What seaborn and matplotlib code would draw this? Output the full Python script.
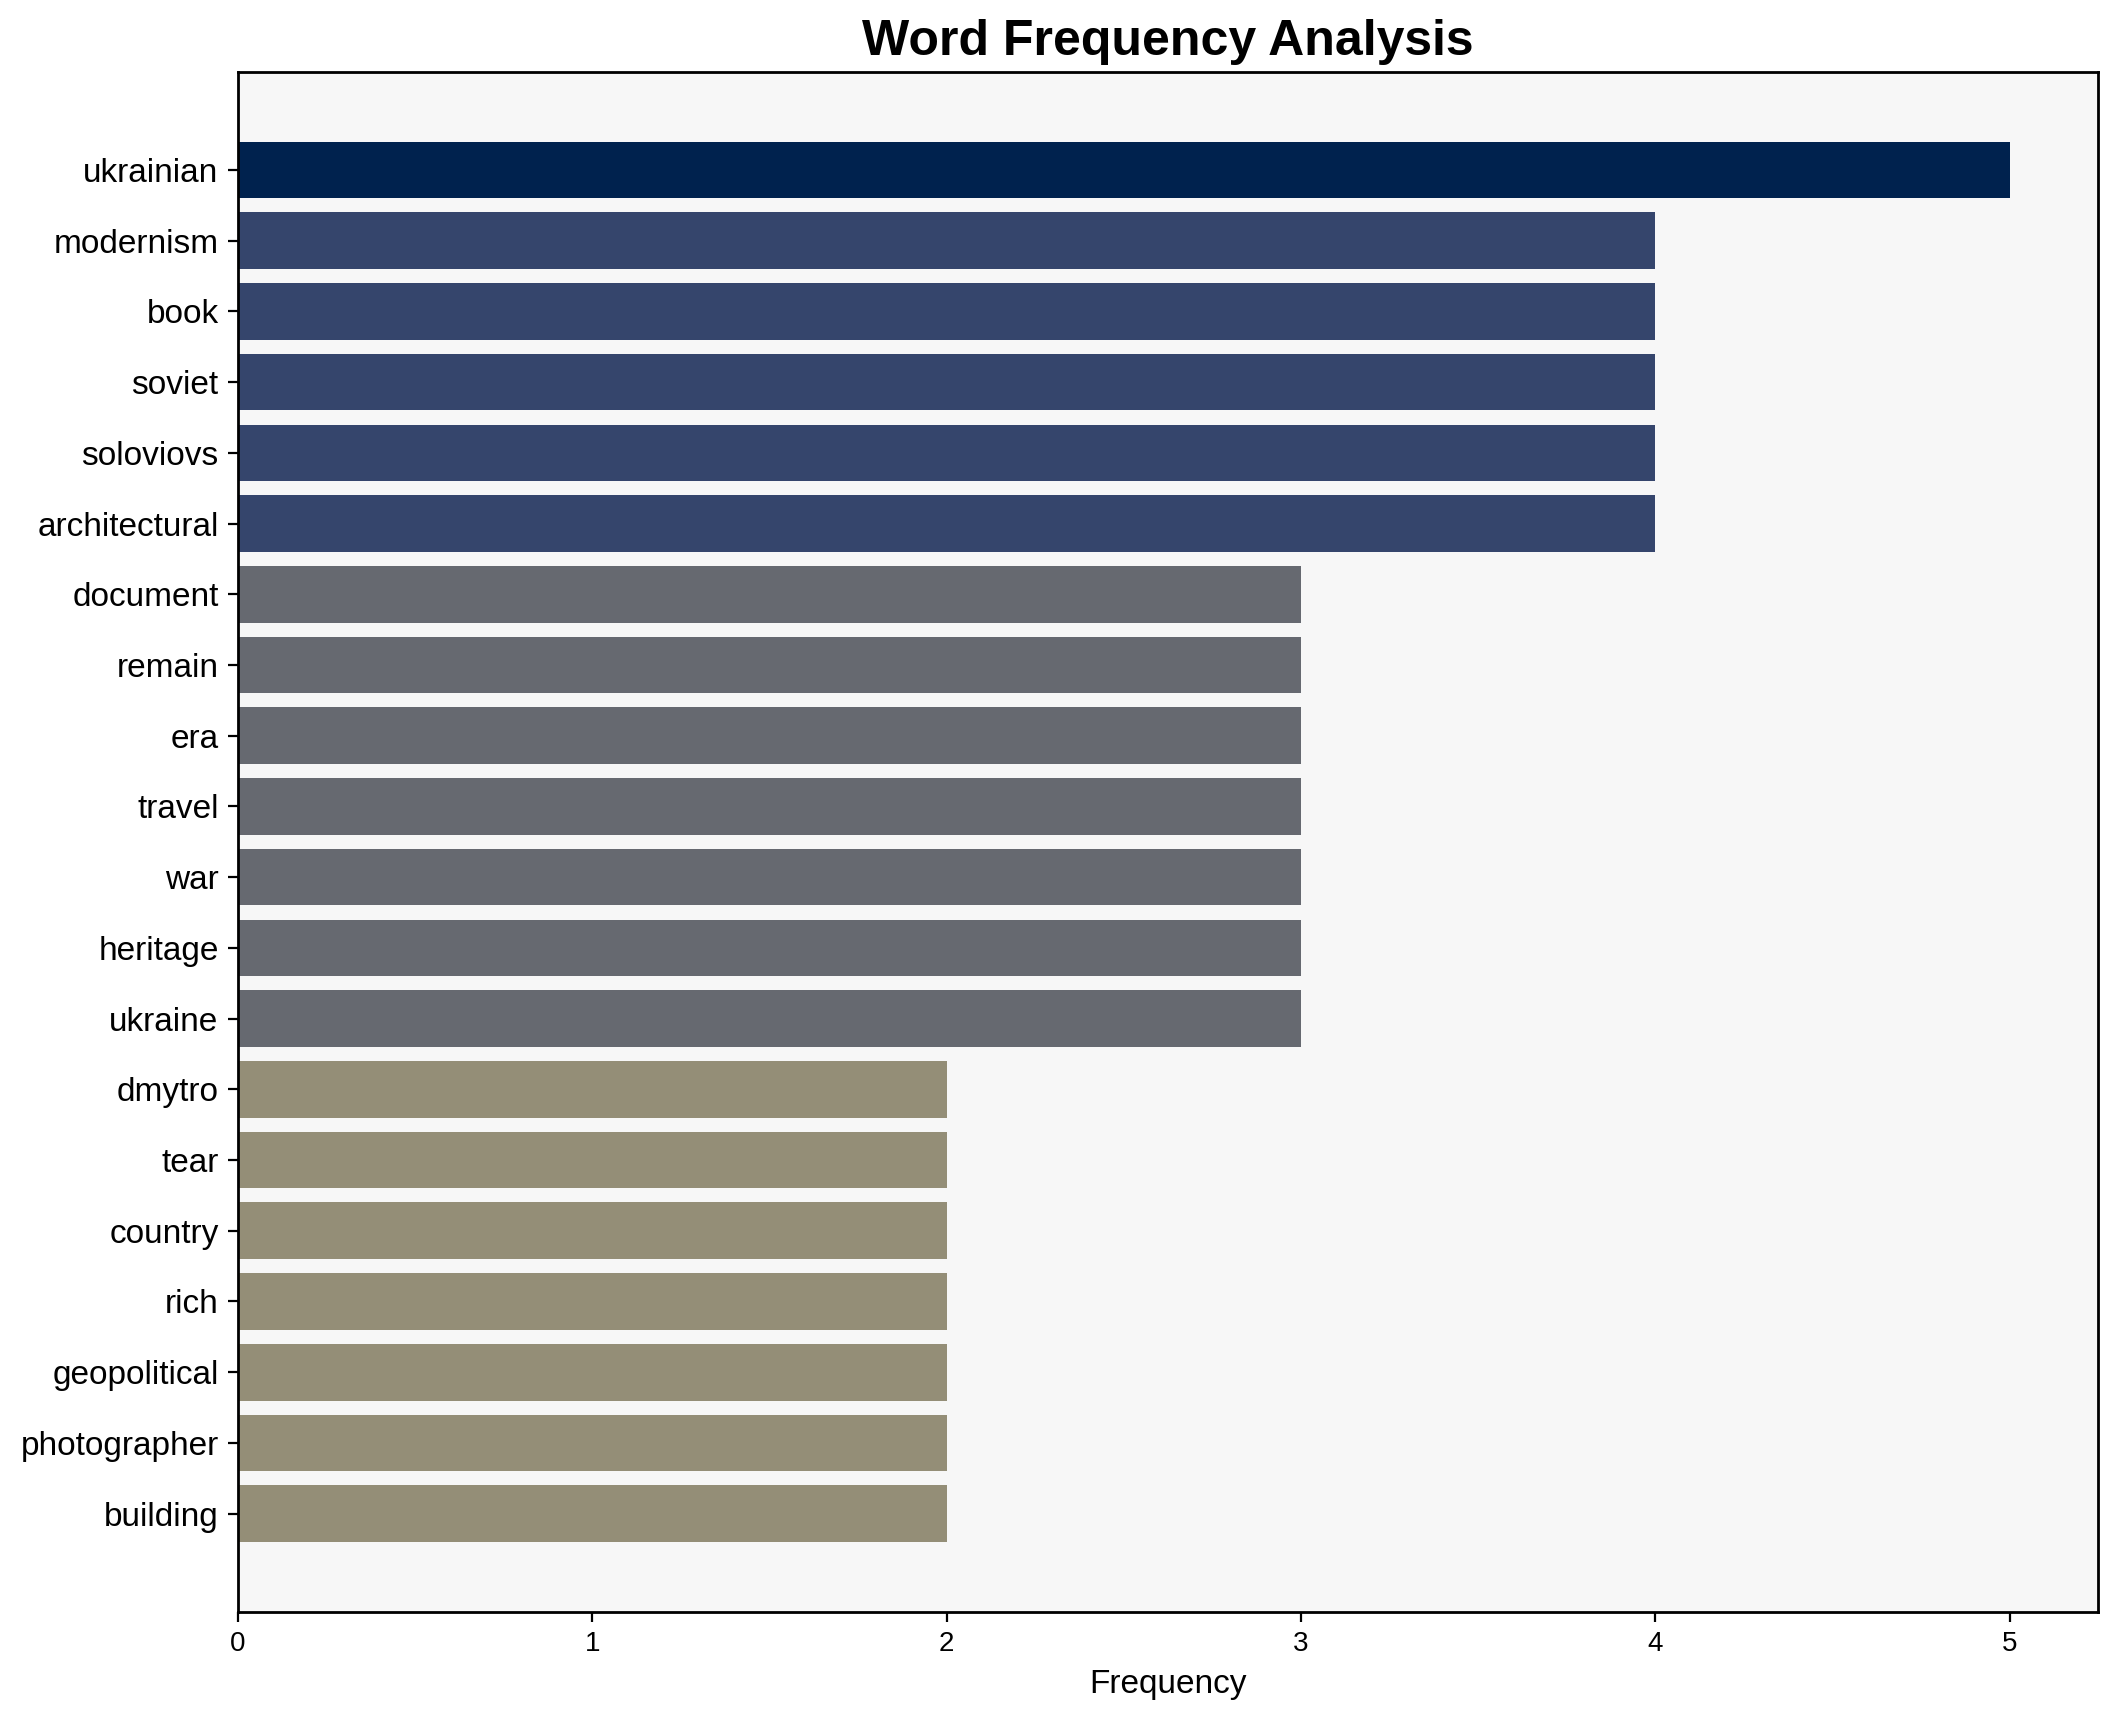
import matplotlib
matplotlib.use("Agg")
import matplotlib.pyplot as plt
import pandas as pd
import seaborn as sns

# --- Data ---
words = ["ukrainian", "modernism", "book", "soviet", "soloviovs", "architectural",
         "document", "remain", "era", "travel", "war", "heritage", "ukraine",
         "dmytro", "tear", "country", "rich", "geopolitical", "photographer", "building"]
counts = [5, 4, 4, 4, 4, 4, 3, 3, 3, 3, 3, 3, 3, 2, 2, 2, 2, 2, 2, 2]

df = pd.DataFrame({"word": words, "count": counts})

# colour each bar from cividis by its frequency (darker = more frequent)
top = max(counts)
palette = {w: plt.cm.cividis(1 - c / top) for w, c in zip(words, counts)}

plt.rcParams["font.family"] = ["Liberation Sans", "DejaVu Sans"]

fig, ax = plt.subplots(figsize=(2118 / 200, 1722 / 200), dpi=200)
fig.subplots_adjust(left=0.1124, right=0.9906, bottom=0.0639, top=0.9584)

sns.barplot(data=df, x="count", y="word", hue="word", palette=palette,
            orient="h", width=0.8, saturation=1, legend=False, ax=ax)

ax.set_facecolor("#f7f7f7")
ax.set_xlim(0, top * 1.05)
n = len(words)
ax.set_ylim(n - 0.6 + 0.99, -0.4 - 0.99)

for side in ax.spines.values():
    side.set_color("black")
    side.set_linewidth(1.0)

ax.set_title("Word Frequency Analysis", fontsize=18, fontweight="bold")
ax.set_xlabel("Frequency", fontsize=12)
ax.set_ylabel("")
ax.tick_params(axis="y", labelsize=12)
ax.tick_params(axis="x", labelsize=10)

plt.savefig("out.png", dpi=200)
